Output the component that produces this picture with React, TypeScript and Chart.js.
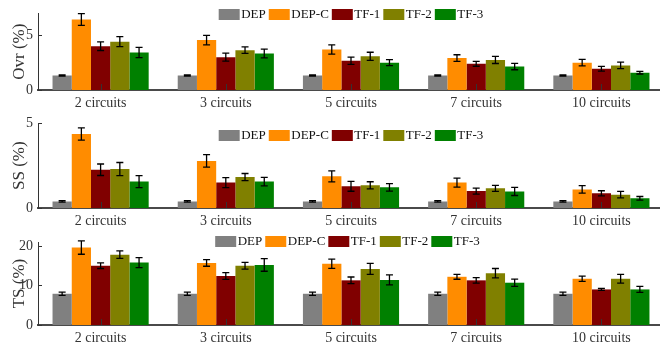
import React, { useEffect, useRef } from "react";
import { Chart, registerables } from "chart.js";

Chart.register(...registerables);

const categories = ["2 circuits", "3 circuits", "5 circuits", "7 circuits", "10 circuits"];
const seriesNames = ["DEP", "DEP-C", "TF-1", "TF-2", "TF-3"];
const seriesColors = ["#808080", "#ff8c00", "#800000", "#808000", "#008000"];

// Ovr (%)
const ovrDEP = [1.33, 1.33, 1.33, 1.33, 1.33];
const ovrDEPC = [6.44, 4.56, 3.7, 2.92, 2.5];
const ovrTF1 = [4.0, 3.0, 2.67, 2.39, 1.94];
const ovrTF2 = [4.42, 3.64, 3.08, 2.75, 2.25];
const ovrTF3 = [3.42, 3.33, 2.5, 2.14, 1.58];
const ovrErrDEP = [0.05, 0.05, 0.05, 0.05, 0.05];
const ovrErrDEPC = [0.54, 0.44, 0.43, 0.3, 0.29];
const ovrErrTF1 = [0.39, 0.37, 0.33, 0.22, 0.21];
const ovrErrTF2 = [0.46, 0.3, 0.37, 0.33, 0.3];
const ovrErrTF3 = [0.47, 0.4, 0.28, 0.29, 0.12];
const ovrTicks = [0, 5];

// SS (%)
const ssDEP = [0.39, 0.39, 0.39, 0.39, 0.39];
const ssDEPC = [4.37, 2.78, 1.87, 1.5, 1.1];
const ssTF1 = [2.26, 1.5, 1.28, 1.0, 0.87];
const ssTF2 = [2.3, 1.83, 1.34, 1.16, 0.79];
const ssTF3 = [1.56, 1.56, 1.22, 0.98, 0.57];
const ssErrDEP = [0.04, 0.04, 0.04, 0.04, 0.04];
const ssErrDEPC = [0.36, 0.37, 0.33, 0.27, 0.22];
const ssErrTF1 = [0.34, 0.3, 0.29, 0.18, 0.15];
const ssErrTF2 = [0.39, 0.21, 0.21, 0.18, 0.19];
const ssErrTF3 = [0.35, 0.25, 0.22, 0.24, 0.11];
const ssTicks = [0, 5];

// TS (%)
const tsDEP = [7.9, 7.9, 7.9, 7.9, 7.9];
const tsDEPC = [19.6, 15.7, 15.5, 12.2, 11.7];
const tsTF1 = [15.0, 12.4, 11.3, 11.3, 9.0];
const tsTF2 = [17.8, 15.0, 14.2, 13.1, 11.7];
const tsTF3 = [15.8, 15.2, 11.4, 10.7, 9.0];
const tsErrDEP = [0.4, 0.4, 0.4, 0.4, 0.4];
const tsErrDEPC = [1.7, 0.84, 1.18, 0.63, 0.67];
const tsErrTF1 = [0.7, 0.84, 0.84, 0.7, 0.25];
const tsErrTF2 = [0.95, 0.84, 1.4, 1.2, 1.13];
const tsErrTF3 = [1.26, 1.6, 1.26, 0.92, 0.76];
const tsTicks = [0, 10, 20];

const FONT = "'Liberation Serif', 'Times New Roman', serif";
const CANVAS_W = 664;

type Panel = {
  title: string;
  values: number[][];
  errors: number[][];
  max: number;
  ticks: number[];
  top: number;
  height: number;
  padTop: number;
  bottom: number;
  legendTop: number;
  legendCenter: number;
};

const panels: Panel[] = [
  {
    title: "Ovr (%)",
    values: [ovrDEP, ovrDEPC, ovrTF1, ovrTF2, ovrTF3],
    errors: [ovrErrDEP, ovrErrDEPC, ovrErrTF1, ovrErrTF2, ovrErrTF3],
    max: 7,
    ticks: ovrTicks,
    top: 0,
    height: 117,
    padTop: 6,
    bottom: 90,
    legendTop: 9,
    legendCenter: 351,
  },
  {
    title: "SS (%)",
    values: [ssDEP, ssDEPC, ssTF1, ssTF2, ssTF3],
    errors: [ssErrDEP, ssErrDEPC, ssErrTF1, ssErrTF2, ssErrTF3],
    max: 5,
    ticks: ssTicks,
    top: 110,
    height: 120,
    padTop: 13,
    bottom: 98,
    legendTop: 20,
    legendCenter: 351,
  },
  {
    title: "TS (%)",
    values: [tsDEP, tsDEPC, tsTF1, tsTF2, tsTF3],
    errors: [tsErrDEP, tsErrDEPC, tsErrTF1, tsErrTF2, tsErrTF3],
    max: 21,
    ticks: tsTicks,
    top: 228,
    height: 119,
    padTop: 14,
    bottom: 97,
    legendTop: 8,
    legendCenter: 347.5,
  },
];

function PanelChart({ panel }: { panel: Panel }) {
  const ref = useRef<HTMLCanvasElement | null>(null);

  useEffect(() => {
    const canvas = ref.current;
    if (!canvas) return;

    const decor = {
      id: "decor",
      afterDatasetsDraw(chart: any) {
        const ctx = chart.ctx;
        const xs = chart.scales.x;
        const ys = chart.scales.y;
        const area = chart.chartArea;
        ctx.save();
        // error bars
        ctx.strokeStyle = "#000";
        ctx.lineWidth = 1.3;
        chart.data.datasets.forEach((ds: any, i: number) => {
          const meta = chart.getDatasetMeta(i);
          meta.data.forEach((bar: any, j: number) => {
            const v = ds.data[j];
            const e = panel.errors[i][j];
            const x = bar.x;
            const y1 = ys.getPixelForValue(v + e);
            const y2 = ys.getPixelForValue(v - e);
            ctx.beginPath();
            ctx.moveTo(x, y1);
            ctx.lineTo(x, y2);
            ctx.moveTo(x - 3.5, y1);
            ctx.lineTo(x + 3.5, y1);
            ctx.moveTo(x - 3.5, y2);
            ctx.lineTo(x + 3.5, y2);
            ctx.stroke();
          });
        });
        // inward ticks
        ctx.strokeStyle = "#333";
        ctx.lineWidth = 1;
        categories.forEach((_c, i) => {
          const x = Math.round(xs.getPixelForValue(i)) + 0.5;
          ctx.beginPath();
          ctx.moveTo(x, area.bottom);
          ctx.lineTo(x, area.bottom - 6);
          ctx.stroke();
        });
        panel.ticks.forEach((t) => {
          const y = Math.round(ys.getPixelForValue(t)) + 0.5;
          ctx.beginPath();
          ctx.moveTo(area.left, y);
          ctx.lineTo(area.left + 4, y);
          ctx.stroke();
        });
        // legend
        ctx.font = `13px ${FONT}`;
        ctx.textBaseline = "middle";
        ctx.textAlign = "left";
        const boxW = 21;
        const boxH = 11;
        const gapText = 1.5;
        const gapItem = 3;
        const widths = seriesNames.map((n) => ctx.measureText(n).width);
        const total =
          widths.reduce((a: number, w: number) => a + boxW + gapText + w, 0) +
          gapItem * (seriesNames.length - 1);
        let lx = panel.legendCenter - total / 2;
        const ly = panel.legendTop;
        seriesNames.forEach((n, i) => {
          ctx.fillStyle = seriesColors[i];
          ctx.fillRect(lx, ly, boxW, boxH);
          ctx.fillStyle = "#111";
          ctx.fillText(n, lx + boxW + gapText, ly + boxH / 2 + 0.5);
          lx += boxW + gapText + widths[i] + gapItem;
        });
        ctx.restore();
      },
    };

    const chart = new Chart(canvas, {
      type: "bar",
      data: {
        labels: categories,
        datasets: seriesNames.map((name, i) => ({
          label: name,
          data: panel.values[i],
          backgroundColor: seriesColors[i],
          borderWidth: 0,
          categoryPercentage: 0.768,
          barPercentage: 1,
        })),
      },
      options: {
        responsive: false,
        animation: false,
        devicePixelRatio: 1,
        layout: { padding: { top: panel.padTop, left: 0, right: 0, bottom: 0 } },
        plugins: {
          legend: { display: false },
          tooltip: { enabled: false },
        },
        scales: {
          x: {
            grid: { display: false, drawTicks: false },
            border: { display: true, color: "#4a4a4a", width: 2 },
            ticks: {
              font: { family: FONT, size: 14 },
              color: "#333",
              padding: 5,
              maxRotation: 0,
              autoSkip: false,
            },
            afterFit: (s: any) => {
              s.height = panel.height - panel.bottom;
            },
          },
          y: {
            min: 0,
            max: panel.max,
            grid: { display: false, drawTicks: false },
            border: { display: true, color: "#333", width: 1 },
            ticks: {
              font: { family: FONT, size: 14 },
              color: "#333",
              padding: 5,
            },
            afterBuildTicks: (s: any) => {
              s.ticks = panel.ticks.map((v) => ({ value: v }));
            },
            afterFit: (s: any) => {
              s.width = 38;
            },
            title: {
              display: true,
              text: panel.title,
              font: { family: FONT, size: 17 },
              color: "#333",
              padding: { top: 9, bottom: 0 },
            },
          },
        },
      },
      plugins: [decor],
    } as any);

    return () => chart.destroy();
  }, [panel]);

  return (
    <div
      style={{
        position: "absolute",
        left: 0,
        top: panel.top,
        width: CANVAS_W,
        height: panel.height,
      }}
    >
      <canvas
        ref={ref}
        width={CANVAS_W}
        height={panel.height}
        style={{ display: "block", width: CANVAS_W, height: panel.height }}
      />
    </div>
  );
}

export default function App() {
  return (
    <div
      style={{
        position: "absolute",
        left: 0,
        top: 0,
        width: 660,
        height: 347,
        overflow: "hidden",
        background: "#fff",
      }}
    >
      {panels.map((p, i) => (
        <PanelChart key={i} panel={p} />
      ))}
    </div>
  );
}
